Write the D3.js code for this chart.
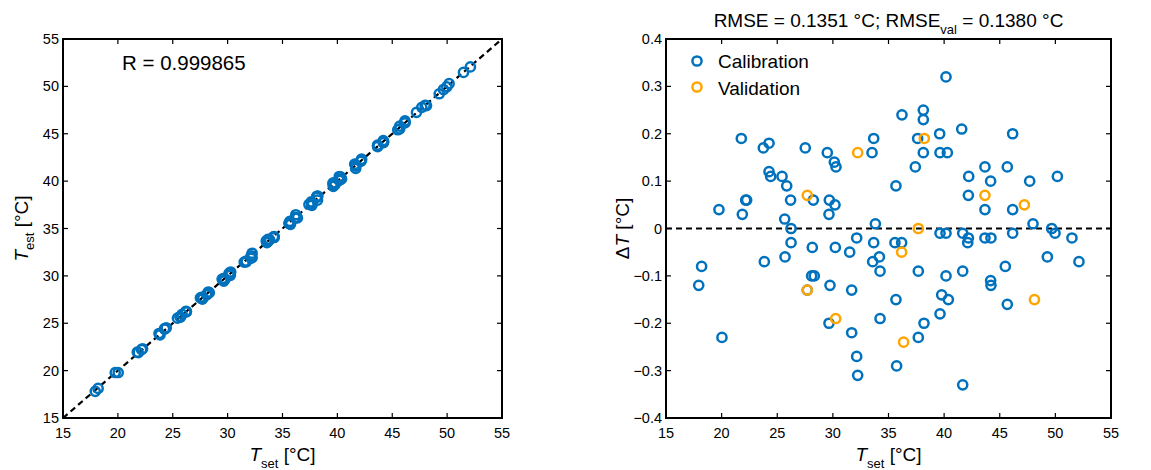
<!DOCTYPE html>
<html>
<head>
<meta charset="utf-8">
<script src="https://cdn.jsdelivr.net/npm/d3@7"></script>
<style>
  body { margin: 0; background: #fff; }
  svg { font-family: "Liberation Sans", Arial, sans-serif; }
</style>
</head>
<body>
<svg id="chart" width="1151" height="470"></svg>
<script>
// calibration points: set temperature and error (T_est - T_set)
var calSet = [17.94, 18.2, 19.76, 20.03, 21.77, 21.86, 22.16, 22.25, 23.75, 23.84,
  24.26, 24.26, 24.41, 25.43, 25.67, 25.7, 25.85, 26.2, 26.24, 26.24,
  27.52, 27.7, 28.15, 28.24, 28.09, 28.33, 29.5, 29.68, 29.65, 29.74,
  29.65, 30.13, 30.28, 30.19, 30.22, 31.51, 31.69, 31.69, 32.14, 32.14,
  32.23, 33.52, 33.67, 33.67, 33.58, 33.82, 34.18, 34.24, 34.24, 35.67,
  35.58, 36.18, 35.67, 35.73, 36.21, 37.41, 37.62, 37.68, 37.68, 38.13,
  38.13, 38.13, 38.19, 39.6, 39.63, 40.29, 39.63, 40.17, 39.78, 39.63,
  40.17, 40.38, 40.17, 41.58, 41.67, 41.67, 41.67, 42.18, 42.12, 42.21,
  42.18, 43.67, 43.67, 43.67, 44.21, 44.18, 44.18, 44.21, 45.5, 45.68,
  45.68, 46.16, 46.16, 46.16, 47.69, 47.99, 49.28, 49.67, 49.97, 50.18,
  51.49, 52.12];
var calErr = [-0.12, -0.08, 0.04, -0.23, 0.19, 0.03, 0.06, 0.06, 0.17, -0.07,
  0.18, 0.12, 0.11, 0.11, 0.02, -0.06, 0.09, 0.06, 0.0, -0.03,
  0.17, -0.13, -0.04, 0.06, -0.10, -0.10, 0.16, 0.06, 0.03, -0.12,
  -0.20, 0.14, 0.13, 0.05, -0.04, -0.05, -0.13, -0.22, -0.02, -0.27,
  -0.31, 0.16, 0.19, -0.03, -0.07, 0.01, -0.06, -0.09, -0.19, 0.09,
  -0.03, -0.03, -0.15, -0.29, 0.24, 0.13, 0.19, -0.09, -0.23, 0.25,
  0.23, 0.16, -0.20, 0.20, 0.16, 0.16, -0.01, -0.01, -0.14, -0.18,
  -0.10, -0.15, 0.32, 0.21, -0.01, -0.09, -0.33, -0.02, -0.03, 0.11,
  0.07, 0.13, 0.04, -0.02, -0.02, 0.10, -0.11, -0.12, -0.08, 0.13,
  -0.16, 0.20, 0.04, -0.01, 0.10, 0.01, -0.06, 0.0, -0.01, 0.11,
  -0.02, -0.07];

// validation points
var valSet = [27.7, 27.7, 30.25, 32.23, 36.18, 36.36, 37.68, 38.22, 43.67, 47.21, 48.12];
var valErr = [0.07, -0.13, -0.19, 0.16, -0.05, -0.24, 0.0, 0.19, 0.07, 0.05, -0.15];

var xTicks = [15, 20, 25, 30, 35, 40, 45, 50, 55];
var yTicksLeft = [15, 20, 25, 30, 35, 40, 45, 50, 55];
var yTicksRight = [-0.4, -0.3, -0.2, -0.1, 0, 0.1, 0.2, 0.3, 0.4];
var rText = "R = 0.999865";
var legendNames = ["Calibration", "Validation"];

var blue = "#0072BD";
var orange = "#FFA500";
var markR = 4.6, markW = 2.5;
var labelSize = 19;

var svg = d3.select("#chart");

// draws a boxed matlab style axes, ticks inside on all four sides
function drawBox(g, x, y, yTicks, yFmt) {
  var x0 = x.range()[0], x1 = x.range()[1];
  var y0 = y.range()[0], y1 = y.range()[1];
  var tl = 5;

  xTicks.forEach(function(t) {
    g.append("line").attr("x1", x(t)).attr("x2", x(t)).attr("y1", y0).attr("y2", y0 - tl)
      .attr("stroke", "#000").attr("stroke-width", 1.2);
    g.append("line").attr("x1", x(t)).attr("x2", x(t)).attr("y1", y1).attr("y2", y1 + tl)
      .attr("stroke", "#000").attr("stroke-width", 1.2);
    g.append("text").attr("x", x(t)).attr("y", y0 + 20)
      .attr("text-anchor", "middle").attr("font-size", 14.5).text(t);
  });
  yTicks.forEach(function(t) {
    g.append("line").attr("x1", x0).attr("x2", x0 + tl).attr("y1", y(t)).attr("y2", y(t))
      .attr("stroke", "#000").attr("stroke-width", 1.2);
    g.append("line").attr("x1", x1).attr("x2", x1 - tl).attr("y1", y(t)).attr("y2", y(t))
      .attr("stroke", "#000").attr("stroke-width", 1.2);
    g.append("text").attr("x", x0 - 4).attr("y", y(t) + 5)
      .attr("text-anchor", "end").attr("font-size", 14.5).text(yFmt(t));
  });

  g.append("rect").attr("x", x0).attr("y", y1)
    .attr("width", x1 - x0).attr("height", y0 - y1)
    .attr("fill", "none").attr("stroke", "#000").attr("stroke-width", 2);

  // x label
  var xl = g.append("text").attr("x", (x0 + x1) / 2).attr("y", y0 + 43)
    .attr("text-anchor", "middle").attr("font-size", labelSize);
  xl.append("tspan").attr("font-style", "italic").text("T");
  xl.append("tspan").attr("font-size", 13).attr("dy", 7).text("set");
  xl.append("tspan").attr("dy", -7).text(" [°C]");
}

// ---- left panel ----
var xL = d3.scaleLinear().domain([15, 55]).range([63, 502]);
var yL = d3.scaleLinear().domain([15, 55]).range([418, 39]);
var gL = svg.append("g");

gL.append("line")
  .attr("x1", xL(15)).attr("y1", yL(15)).attr("x2", xL(55)).attr("y2", yL(55))
  .attr("stroke", "#000").attr("stroke-width", 2.2).attr("stroke-dasharray", "6,4");

// estimated temperature = set temperature + error
var allSet = calSet.concat(valSet);
var allErr = calErr.concat(valErr);
gL.selectAll("circle.pt").data(allSet).enter().append("circle")
  .attr("class", "pt")
  .attr("cx", function(d) { return xL(d); })
  .attr("cy", function(d, i) { return yL(d + allErr[i]); })
  .attr("r", markR)
  .attr("fill", "none").attr("stroke", blue).attr("stroke-width", markW);

drawBox(gL, xL, yL, yTicksLeft, function(t) { return t; });

gL.append("text").attr("x", 122).attr("y", 70).attr("font-size", 20.5).text(rText);

var ylL = gL.append("text").attr("transform", "translate(28," + ((39 + 418) / 2) + ") rotate(-90)")
  .attr("text-anchor", "middle").attr("font-size", labelSize);
ylL.append("tspan").attr("font-style", "italic").text("T");
ylL.append("tspan").attr("font-size", 13).attr("dy", 6).text("est");
ylL.append("tspan").attr("dy", -6).text(" [°C]");

// ---- right panel ----
var xR = d3.scaleLinear().domain([15, 55]).range([666, 1111]);
var yR = d3.scaleLinear().domain([-0.4, 0.4]).range([418, 39]);
var gR = svg.append("g");

gR.append("line")
  .attr("x1", xR(15)).attr("x2", xR(55)).attr("y1", yR(0)).attr("y2", yR(0))
  .attr("stroke", "#000").attr("stroke-width", 2.2).attr("stroke-dasharray", "6,4");

gR.selectAll("circle.cal").data(calSet).enter().append("circle")
  .attr("class", "cal")
  .attr("cx", function(d) { return xR(d); })
  .attr("cy", function(d, i) { return yR(calErr[i]); })
  .attr("r", markR)
  .attr("fill", "none").attr("stroke", blue).attr("stroke-width", markW);

gR.selectAll("circle.val").data(valSet).enter().append("circle")
  .attr("class", "val")
  .attr("cx", function(d) { return xR(d); })
  .attr("cy", function(d, i) { return yR(valErr[i]); })
  .attr("r", markR)
  .attr("fill", "none").attr("stroke", orange).attr("stroke-width", markW);

drawBox(gR, xR, yR, yTicksRight, function(t) { return t === 0 ? "0" : d3.format(".1f")(t); });

var ylR = gR.append("text").attr("transform", "translate(629," + ((39 + 418) / 2) + ") rotate(-90)")
  .attr("text-anchor", "middle").attr("font-size", labelSize);
ylR.append("tspan").text("Δ");
ylR.append("tspan").attr("font-style", "italic").text("T");
ylR.append("tspan").text(" [°C]");

// title
var title = gR.append("text").attr("x", (666 + 1111) / 2).attr("y", 27)
  .attr("text-anchor", "middle").attr("font-size", labelSize);
title.append("tspan").text("RMSE = 0.1351 °C; RMSE");
title.append("tspan").attr("font-size", 13).attr("dy", 7).text("val");
title.append("tspan").attr("dy", -7).text(" = 0.1380 °C");

// legend
[blue, orange].forEach(function(c, i) {
  gR.append("circle").attr("cx", 697).attr("cy", 61 + i * 26).attr("r", markR)
    .attr("fill", "none").attr("stroke", c).attr("stroke-width", markW);
  gR.append("text").attr("x", 718).attr("y", 68 + i * 27).attr("font-size", labelSize).text(legendNames[i]);
});
</script>
</body>
</html>
